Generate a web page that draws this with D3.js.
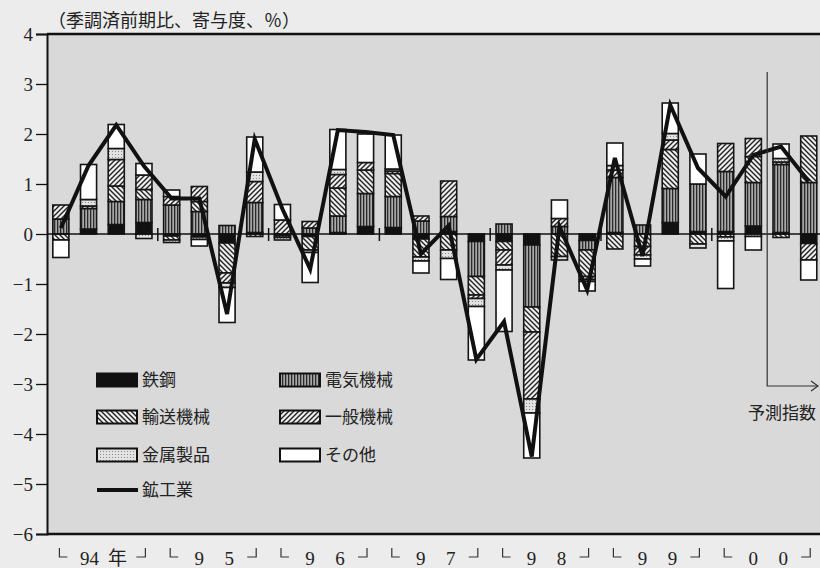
<!DOCTYPE html>
<html><head><meta charset="utf-8">
<script src="https://cdn.jsdelivr.net/npm/d3@7"></script>
<style>
html,body{margin:0;padding:0;background:#ececec;}
svg{display:block;}
text{font-family:"Liberation Serif","Noto Sans CJK JP",serif;fill:#222;}
</style></head>
<body><svg id="c" width="820" height="568"></svg>
<script>
const quarters = ["94Q1","94Q2","94Q3","94Q4","95Q1","95Q2","95Q3","95Q4","96Q1","96Q2","96Q3","96Q4",
  "97Q1","97Q2","97Q3","97Q4","98Q1","98Q2","98Q3","98Q4","99Q1","99Q2","99Q3","99Q4","00Q1","00Q2","00Q3","00Q4"];
const seriesNames = ["鉄鋼","電気機械","輸送機械","一般機械","金属製品","その他"];
const steel     = [0,0.1,0.19,0.23,-0.04,-0.06,-0.18,0.03,-0.03,-0.05,0.03,0.15,0.13,-0.1,0.05,-0.15,-0.15,-0.22,0,-0.13,0.03,0,0.23,0.05,0.05,0.16,0.03,-0.19];
const electric  = [0.3,0.41,0.46,0.46,0.58,0.45,0.17,0.6,-0.04,0.12,0.33,0.66,0.62,0.26,0.3,-0.7,0.2,-1.24,0.15,-0.19,1.1,0.18,0.68,0.95,1.2,0.87,1.36,1.03];
const transport = [-0.12,0,0.31,0.2,-0.08,0.2,-0.6,-0.05,0,-0.27,0.56,0.47,0.46,-0.36,-0.32,-0.37,-0.17,-0.5,-0.45,-0.53,-0.3,-0.25,0.78,-0.2,-0.06,0.52,-0.07,0.93];
const general   = [0.28,0.05,0.53,0.29,0.17,0.3,-0.2,0.42,0.28,0.13,0.27,0.15,0.05,0.1,0.71,-0.07,-0.3,-1.34,0.16,-0.06,0.15,-0.17,0.19,0,0.56,0.36,0.05,-0.33];
const metal     = [0,0.13,0.22,-0.09,-0.05,-0.05,-0.09,0.19,-0.05,-0.05,0.1,0,0.04,-0.08,-0.17,-0.16,-0.1,-0.28,-0.07,-0.04,0.09,-0.08,0.13,-0.08,-0.08,-0.05,0.07,0];
const other     = [-0.35,0.7,0.48,0.23,0.13,-0.13,-0.7,0.7,0.31,-0.6,0.8,0.57,0.68,-0.24,-0.42,-1.07,-1.23,-0.9,0.37,-0.19,0.45,-0.14,0.61,0.6,-0.95,-0.27,0.29,-0.4];
const industry  = [0.12,1.37,2.18,1.36,0.71,0.71,-1.6,1.9,0.5,-0.7,2.08,2.04,1.98,-0.4,0.17,-2.51,-1.75,-4.45,0.15,-1.12,1.52,-0.44,2.58,1.32,0.75,1.58,1.75,1.05];
const lineName = "鉱工業";
const yTicks = [4,3,2,1,0,-1,-2,-3,-4,-5,-6];
const yearLabels = [["94","年"],["9","5"],["9","6"],["9","7"],["9","8"],["9","9"],["0","0"]];
const title = "（季調済前期比、寄与度、％）";
const forecastLabel = "予測指数";

const svg = d3.select("#c");
const L = 47, T = 34, B = 534, R = 47 + 28*27.7;
const x = d3.scaleBand().domain(quarters).range([L, R]).paddingInner(0.42).paddingOuter(0.21);
const y = d3.scaleLinear().domain([-6,4]).range([B, T]);

// patterns
const defs = svg.append("defs");
function pat(id, w, h, bg, draw){
  const p = defs.append("pattern").attr("id", id).attr("patternUnits","userSpaceOnUse").attr("width", w).attr("height", h);
  p.append("rect").attr("width", w).attr("height", h).attr("fill", bg);
  draw(p);
}
pat("pElec", 3, 4, "#a8a8a8", p => p.append("rect").attr("x",0).attr("y",0).attr("width",1.3).attr("height",4).attr("fill","#2a2a2a"));
pat("pTrans", 5, 5, "#eeeeee", p => p.append("path").attr("d","M0,0L5,5M-1,4L1,6M4,-1L6,1").attr("stroke","#222").attr("stroke-width",1.4));
pat("pGen", 5, 5, "#eeeeee", p => p.append("path").attr("d","M0,5L5,0M-1,1L1,-1M4,6L6,4").attr("stroke","#222").attr("stroke-width",1.4));
pat("pMetal", 3, 3, "#e2e2e2", p => p.append("rect").attr("x",1).attr("y",1).attr("width",1).attr("height",1).attr("fill","#8a8a8a"));
const fills = ["#111111","url(#pElec)","url(#pTrans)","url(#pGen)","url(#pMetal)","#ffffff"];

// plot background
svg.append("rect").attr("x", L).attr("y", T).attr("width", 820 - L).attr("height", B - T).attr("fill", "#d9d9d9");

// data table
const table = quarters.map((q,i) => ({q, "鉄鋼":steel[i], "電気機械":electric[i], "輸送機械":transport[i], "一般機械":general[i], "金属製品":metal[i], "その他":other[i]}));
const stacked = d3.stack().keys(seriesNames).offset(d3.stackOffsetDiverging)(table);

const gBars = svg.append("g");
stacked.forEach((s, si) => {
  gBars.selectAll(null).data(s.filter(d => d[1] - d[0] !== 0)).join("rect")
    .attr("x", d => x(d.data.q))
    .attr("width", x.bandwidth())
    .attr("y", d => y(Math.max(d[0], d[1])))
    .attr("height", d => Math.abs(y(d[0]) - y(d[1])))
    .attr("fill", fills[si])
    .attr("stroke", "#151515").attr("stroke-width", 1.6);
});

// zero line
svg.append("line").attr("x1", L).attr("x2", 820).attr("y1", y(0)).attr("y2", y(0)).attr("stroke", "#111").attr("stroke-width", 1.3);
// year separators
d3.range(4, 28, 4).forEach(k => {
  const xx = L + k * x.step();
  svg.append("line").attr("x1", xx).attr("x2", xx).attr("y1", y(0) - 6).attr("y2", y(0) + 7).attr("stroke", "#111").attr("stroke-width", 1.5);
});

// line
svg.append("path").datum(industry)
  .attr("d", d3.line().x((d,i) => x(quarters[i]) + x.bandwidth()/2).y(d => y(d)))
  .attr("fill", "none").attr("stroke", "#111").attr("stroke-width", 4).attr("stroke-linejoin", "miter");

// forecast annotation
const fx = L + 26 * x.step();
svg.append("path").attr("d", `M${fx},72V386H818`).attr("fill","none").attr("stroke","#333").attr("stroke-width",1.2);
svg.append("path").attr("d", `M811,381L818,386L811,391`).attr("fill","none").attr("stroke","#333").attr("stroke-width",1.2);
svg.append("text").attr("x", 748).attr("y", 419).attr("font-size", 17).text(forecastLabel);

// frame
svg.append("line").attr("x1", L).attr("x2", 820).attr("y1", T).attr("y2", T).attr("stroke", "#111").attr("stroke-width", 2.5);
svg.append("line").attr("x1", L).attr("x2", 820).attr("y1", B).attr("y2", B).attr("stroke", "#111").attr("stroke-width", 2.5);

// y axis
const yAxis = svg.append("g").attr("transform", `translate(${L},0)`)
  .call(d3.axisLeft(y).tickValues(yTicks).tickSize(11).tickPadding(3).tickFormat(d => d < 0 ? "−" + Math.abs(d) : d));
yAxis.select(".domain").attr("stroke", "#111").attr("stroke-width", 2);
yAxis.selectAll(".tick line").attr("stroke", "#111").attr("stroke-width", 1.3);
yAxis.selectAll(".tick text").attr("font-family", "Liberation Serif, serif").attr("font-size", 19).attr("fill", "#222");

// title
svg.append("text").attr("x", 48).attr("y", 27).attr("font-size", 18).text(title);

// x year labels
const yb = 565;
yearLabels.forEach((lab, i) => {
  const cx = L + (4*i + 2) * x.step();
  const t = svg.append("text").attr("y", yb).attr("font-size", 19).attr("text-anchor", "middle");
  if (i === 0) {
    t.append("tspan").attr("x", cx - 13).text(lab[0]);
    t.append("tspan").attr("x", cx + 15).text(lab[1]);
  } else {
    t.append("tspan").attr("x", cx - 14).text(lab[0]);
    t.append("tspan").attr("x", cx + 16).text(lab[1]);
  }
  svg.append("path").attr("d", `M${cx-43},548V557H${cx-35}`).attr("fill","none").attr("stroke","#333").attr("stroke-width",1.2);
  svg.append("path").attr("d", `M${cx+34},557H${cx+43}V548`).attr("fill","none").attr("stroke","#333").attr("stroke-width",1.2);
});

// legend
const legendItems = [
  {name:"鉄鋼", fill:fills[0], x:97, y:380},
  {name:"電気機械", fill:fills[1], x:280, y:380},
  {name:"輸送機械", fill:fills[2], x:97, y:417},
  {name:"一般機械", fill:fills[3], x:280, y:417},
  {name:"金属製品", fill:fills[4], x:97, y:455},
  {name:"その他", fill:fills[5], x:280, y:455}
];
const lg = svg.append("g");
legendItems.forEach(it => {
  lg.append("rect").attr("x", it.x).attr("y", it.y - 6.5).attr("width", 40).attr("height", 13).attr("fill", it.fill).attr("stroke", "#111").attr("stroke-width", 2);
  lg.append("text").attr("x", it.x + 45).attr("y", it.y + 6).attr("font-size", 17).text(it.name);
});
lg.append("line").attr("x1", 97).attr("x2", 138).attr("y1", 490).attr("y2", 490).attr("stroke", "#111").attr("stroke-width", 4);
lg.append("text").attr("x", 142).attr("y", 496).attr("font-size", 17).text(lineName);
</script></body></html>
